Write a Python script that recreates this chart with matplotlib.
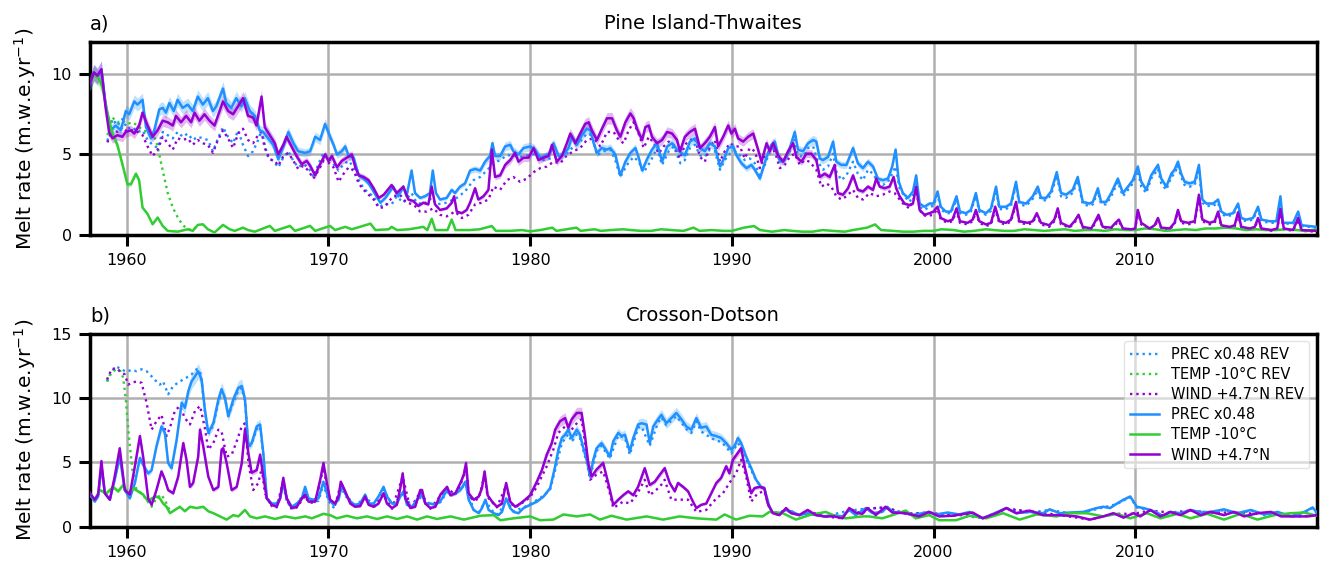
import numpy as np
import matplotlib
matplotlib.use("Agg")
import matplotlib.pyplot as plt

############################## DATA

BLUE = "#1e90ff"
GREEN = "#32cd32"
VIOLET = "#9400d3"

# ---------- a) Pine Island-Thwaites ----------
a_prec_t = [1958.17, 1958.37, 1958.54, 1958.74, 1958.95, 1959.20, 1959.45, 1959.70, 1959.95, 1960.12,
            1960.37, 1960.53, 1960.78, 1960.95, 1961.20, 1961.36, 1961.61, 1961.78, 1961.94, 1962.11,
            1962.33, 1962.52, 1962.77, 1963.02, 1963.27, 1963.52, 1963.77, 1964.02, 1964.27, 1964.44,
            1964.77, 1964.93, 1965.18, 1965.43, 1965.68, 1965.85, 1966.10, 1966.35, 1966.59, 1966.76,
            1967.01, 1967.26, 1967.51, 1967.76, 1968.01, 1968.26, 1968.50, 1968.84, 1969.09, 1969.34,
            1969.58, 1969.83, 1970.08, 1970.25, 1970.42, 1970.66, 1970.83, 1971.00, 1971.25, 1971.50,
            1971.74, 1971.99, 1972.33, 1972.57, 1972.82, 1973.21, 1973.46, 1973.71, 1973.87, 1974.12,
            1974.29, 1974.54, 1974.78, 1975.03, 1975.17, 1975.33, 1975.53, 1975.86, 1976.11, 1976.27,
            1976.52, 1976.77, 1977.02, 1977.27, 1977.52, 1977.76, 1978.01, 1978.13, 1978.26, 1978.51,
            1978.76, 1979.01, 1979.17, 1979.42, 1979.67, 1980.00, 1980.25, 1980.50, 1980.75, 1980.99,
            1981.16, 1981.41, 1981.66, 1981.90, 1982.07, 1982.32, 1982.57, 1982.81, 1982.98, 1983.15,
            1983.31, 1983.56, 1983.81, 1983.97, 1984.22, 1984.47, 1984.72, 1984.97, 1985.22, 1985.38,
            1985.55, 1985.79, 1986.04, 1986.29, 1986.54, 1986.79, 1987.04, 1987.28, 1987.67, 1987.92,
            1988.17, 1988.42, 1988.66, 1988.91, 1989.16, 1989.41, 1989.65, 1989.82, 1990.07, 1990.23,
            1990.48, 1990.73, 1990.97, 1991.14, 1991.39, 1991.55, 1991.72, 1991.96, 1992.13, 1992.38,
            1992.62, 1992.87, 1993.12, 1993.28, 1993.53, 1993.78, 1994.03, 1994.19, 1994.36, 1994.52,
            1994.77, 1995.02, 1995.18, 1995.43, 1995.68, 1996.01, 1996.25, 1996.50, 1996.75, 1997.00,
            1997.24, 1997.49, 1997.74, 1997.95, 1998.12, 1998.28, 1998.48, 1998.73, 1998.98, 1999.14,
            1999.31, 1999.55, 1999.80, 2000.00, 2000.20, 2000.36, 2000.61, 2000.86, 2001.14, 2001.31,
            2001.61, 2001.85, 2002.10, 2002.27, 2002.60, 2002.85, 2003.10, 2003.26, 2003.59, 2003.84,
            2004.09, 2004.25, 2004.59, 2004.92, 2005.17, 2005.33, 2005.58, 2005.83, 2006.11, 2006.32,
            2006.57, 2006.90, 2007.15, 2007.40, 2007.73, 2007.90, 2008.15, 2008.31, 2008.56, 2008.81,
            2009.14, 2009.39, 2009.64, 2009.88, 2010.13, 2010.30, 2010.55, 2010.79, 2011.13, 2011.29,
            2011.54, 2011.79, 2011.95, 2012.12, 2012.28, 2012.45, 2012.70, 2012.95, 2013.16, 2013.33,
            2013.53, 2013.86, 2014.11, 2014.27, 2014.52, 2014.85, 2015.10, 2015.26, 2015.51, 2015.84,
            2016.09, 2016.26, 2016.67, 2017.00, 2017.20, 2017.33, 2017.83, 2018.08, 2018.25, 2019.00]
a_prec_v = [9.4, 10.1, 9.8, 10.3, 8.1, 6.5, 6.8, 6.5, 7.7, 7.5,
            8.3, 8.1, 8.4, 6.7, 6.0, 6.5, 7.8, 7.9, 7.6, 8.2,
            7.7, 8.4, 7.9, 8.1, 7.7, 8.6, 8.1, 8.5, 7.7, 8.0,
            9.1, 8.2, 7.9, 8.5, 8.0, 8.5, 7.7, 7.4, 6.5, 6.4,
            6.0, 5.6, 4.7, 5.5, 6.4, 5.7, 5.2, 5.1, 5.2, 6.1,
            5.9, 6.9, 6.1, 5.6, 5.0, 5.2, 5.5, 4.9, 4.8, 3.7,
            3.5, 3.2, 2.5, 2.0, 2.3, 3.0, 2.4, 3.0, 2.4, 4.0,
            2.6, 2.3, 2.4, 2.6, 4.0, 2.6, 2.2, 2.3, 2.8, 2.6,
            3.0, 3.2, 4.0, 4.1, 4.0, 4.55, 4.9, 5.7, 4.9, 4.9,
            5.5, 5.6, 5.2, 5.0, 5.4, 5.5, 5.3, 4.8, 4.9, 5.1,
            5.7, 4.9, 5.0, 5.4, 6.1, 5.6, 6.2, 6.6, 6.5, 5.7,
            5.1, 5.4, 5.3, 5.4, 5.0, 3.7, 4.55, 5.1, 5.4, 4.8,
            4.0, 4.7, 5.3, 5.7, 4.55, 5.5, 5.7, 5.3, 4.95, 5.8,
            6.0, 5.4, 5.2, 5.7, 5.5, 4.25, 4.85, 5.4, 5.5, 4.95,
            4.45, 4.15, 4.35, 4.05, 3.5, 4.15, 4.85, 5.6, 5.8, 4.55,
            4.65, 5.4, 6.4, 5.3, 5.2, 5.7, 5.9, 5.8, 4.75, 4.65,
            4.85, 5.8, 4.55, 4.35, 4.35, 5.4, 4.45, 4.15, 4.55, 4.25,
            3.5, 3.4, 3.5, 4.25, 5.3, 3.3, 2.6, 2.3, 2.7, 3.7,
            1.95, 1.75, 1.95, 1.95, 2.7, 1.75, 1.45, 1.45, 2.4, 1.45,
            1.35, 1.55, 2.6, 1.55, 1.35, 1.65, 3.0, 1.75, 1.75, 1.95,
            3.3, 2.05, 1.95, 2.4, 3.0, 2.3, 2.3, 2.7, 3.9, 2.6,
            2.5, 2.8, 3.6, 2.05, 1.95, 2.05, 2.9, 2.05, 2.05, 2.6,
            3.5, 2.6, 3.0, 3.4, 4.25, 3.3, 2.8, 3.7, 4.35, 3.5,
            3.0, 3.8, 4.05, 4.55, 3.8, 3.3, 3.2, 3.3, 4.35, 2.2,
            1.95, 1.95, 2.2, 1.45, 1.25, 1.35, 1.95, 1.05, 0.95, 1.05,
            1.75, 0.95, 0.85, 0.85, 2.4, 0.75, 0.75, 1.45, 0.6, 0.5]

a_wind_t = [1958.17, 1958.37, 1958.54, 1958.74, 1958.95, 1959.12, 1959.29, 1959.53, 1959.78, 1959.95,
            1960.20, 1960.37, 1960.61, 1960.78, 1961.03, 1961.28, 1961.53, 1961.78, 1962.03, 1962.28,
            1962.44, 1962.69, 1962.94, 1963.19, 1963.36, 1963.60, 1963.85, 1964.10, 1964.35, 1964.60,
            1964.77, 1965.02, 1965.27, 1965.52, 1965.76, 1966.01, 1966.26, 1966.43, 1966.68, 1966.84,
            1967.09, 1967.34, 1967.51, 1967.76, 1967.92, 1968.17, 1968.42, 1968.67, 1968.92, 1969.09,
            1969.34, 1969.50, 1969.67, 1969.83, 1970.00, 1970.17, 1970.42, 1970.66, 1970.91, 1971.16,
            1971.33, 1971.50, 1971.74, 1971.99, 1972.24, 1972.49, 1972.74, 1973.13, 1973.38, 1973.71,
            1973.96, 1974.21, 1974.45, 1974.70, 1974.95, 1975.12, 1975.28, 1975.53, 1975.86, 1976.11,
            1976.23, 1976.36, 1976.61, 1976.85, 1977.02, 1977.27, 1977.43, 1977.68, 1977.93, 1978.10,
            1978.26, 1978.51, 1978.76, 1979.01, 1979.25, 1979.42, 1979.67, 1979.92, 1980.17, 1980.41,
            1980.66, 1980.91, 1981.08, 1981.32, 1981.57, 1981.82, 1981.99, 1982.24, 1982.48, 1982.73,
            1982.90, 1983.06, 1983.31, 1983.56, 1983.81, 1984.06, 1984.30, 1984.47, 1984.72, 1984.97,
            1985.13, 1985.30, 1985.55, 1985.71, 1985.88, 1986.04, 1986.29, 1986.54, 1986.79, 1987.04,
            1987.28, 1987.43, 1987.67, 1987.92, 1988.17, 1988.42, 1988.66, 1988.91, 1989.16, 1989.32,
            1989.57, 1989.82, 1989.98, 1990.15, 1990.31, 1990.56, 1990.81, 1991.06, 1991.30, 1991.47,
            1991.72, 1991.88, 1992.05, 1992.29, 1992.54, 1992.79, 1993.04, 1993.20, 1993.45, 1993.70,
            1993.94, 1994.19, 1994.36, 1994.60, 1994.85, 1995.10, 1995.26, 1995.51, 1995.76, 1996.01,
            1996.25, 1996.50, 1996.75, 1997.00, 1997.16, 1997.33, 1997.57, 1997.82, 1998.02, 1998.15,
            1998.32, 1998.56, 1998.81, 1998.98, 1999.14, 1999.31, 1999.55, 1999.80, 2000.00, 2000.20,
            2000.36, 2000.70, 2000.94, 2001.14, 2001.31, 2001.69, 2001.94, 2002.10, 2002.27, 2002.60,
            2002.85, 2003.06, 2003.26, 2003.59, 2003.84, 2004.09, 2004.25, 2004.67, 2004.92, 2005.12,
            2005.33, 2005.74, 2005.99, 2006.16, 2006.32, 2006.74, 2006.99, 2007.19, 2007.40, 2007.82,
            2007.98, 2008.18, 2008.39, 2008.81, 2009.02, 2009.19, 2009.39, 2009.80, 2010.00, 2010.13,
            2010.30, 2010.71, 2010.96, 2011.13, 2011.29, 2011.71, 2011.95, 2012.12, 2012.28, 2012.62,
            2012.95, 2013.16, 2013.33, 2013.69, 2013.94, 2014.11, 2014.27, 2014.69, 2014.93, 2015.10,
            2015.26, 2015.68, 2015.93, 2016.09, 2016.26, 2016.75, 2017.04, 2017.20, 2017.37, 2017.83,
            2018.08, 2018.25, 2019.00]
a_wind_v = [9.4, 10.1, 9.9, 10.3, 7.9, 6.4, 6.0, 6.2, 6.1, 6.4,
            6.5, 6.3, 6.8, 7.6, 6.8, 6.1, 6.5, 7.1, 7.0, 6.8,
            7.4, 7.0, 7.4, 7.0, 7.6, 7.1, 7.5, 7.1, 6.8, 7.7,
            8.3, 7.7, 7.5, 8.0, 8.5, 7.4, 7.3, 6.8, 8.6, 6.7,
            6.2, 5.7, 5.0, 5.6, 6.1, 5.5, 4.9, 4.4, 4.6, 4.3,
            3.7, 4.2, 4.6, 5.0, 4.6, 4.9, 4.2, 4.6, 4.8, 5.0,
            4.2, 3.7, 3.6, 3.4, 2.9, 2.3, 2.5, 3.1, 2.6, 3.0,
            2.2, 2.1, 1.8, 2.0, 1.9, 3.0, 1.9, 1.55, 1.65, 2.0,
            2.4, 1.45, 1.35, 1.55, 2.0, 2.9, 2.2, 2.4, 2.8, 5.3,
            3.6, 3.7, 4.35, 4.65, 5.1, 4.55, 4.8, 4.8, 5.4, 4.65,
            4.8, 4.9, 5.6, 4.55, 4.9, 5.7, 6.3, 5.7, 6.3, 6.9,
            7.0, 6.5, 5.9, 6.6, 7.25, 7.25, 6.5, 6.1, 7.0, 7.55,
            7.25, 6.6, 5.9, 6.7, 6.8, 6.1, 5.7, 5.9, 6.4, 6.3,
            5.9, 5.2, 6.1, 6.4, 6.6, 5.4, 5.7, 6.1, 6.7, 5.5,
            6.1, 6.8, 6.3, 6.6, 6.0, 5.8, 6.1, 6.3, 5.3, 4.55,
            5.7, 5.2, 5.7, 4.95, 4.55, 5.2, 5.7, 4.85, 4.55, 5.05,
            5.05, 4.65, 3.6, 3.8, 3.6, 4.35, 2.6, 2.5, 2.9, 3.7,
            2.8, 2.7, 3.0, 2.8, 3.5, 3.0, 2.9, 3.0, 3.6, 2.9,
            2.4, 1.95, 1.85, 1.95, 3.0, 1.55, 1.25, 1.35, 1.45, 1.75,
            1.05, 0.85, 0.95, 1.65, 0.85, 0.75, 0.95, 1.55, 0.85, 0.65,
            0.75, 1.75, 0.85, 0.75, 0.95, 2.05, 0.85, 0.75, 0.85, 1.35,
            0.75, 0.6, 0.95, 1.65, 0.75, 0.5, 0.85, 1.25, 0.5, 0.4,
            0.75, 1.25, 0.5, 0.45, 0.75, 0.95, 0.4, 0.35, 0.4, 1.55,
            0.75, 0.4, 0.6, 1.05, 0.45, 0.4, 0.75, 1.55, 0.85, 0.75,
            0.85, 2.5, 0.95, 0.75, 0.85, 1.45, 0.6, 0.5, 0.6, 1.4,
            0.5, 0.4, 0.5, 1.05, 0.4, 0.3, 0.4, 1.6, 0.4, 0.3,
            1.05, 0.3, 0.25]

a_temp_t = [1958.17, 1958.37, 1958.62, 1958.79, 1959.04, 1959.29, 1959.53, 1959.78, 1960.03, 1960.20,
            1960.45, 1960.61, 1960.78, 1961.03, 1961.28, 1961.53, 1961.78, 1962.03, 1962.52, 1963.02,
            1963.27, 1963.52, 1963.77, 1964.02, 1964.35, 1964.77, 1965.10, 1965.35, 1965.76, 1966.01,
            1966.35, 1967.09, 1967.34, 1968.09, 1968.34, 1969.09, 1969.34, 1970.08, 1970.33, 1970.83,
            1971.16, 1972.08, 1972.33, 1972.99, 1973.13, 1973.40, 1974.00, 1974.70, 1974.90, 1975.12,
            1975.30, 1975.90, 1976.11, 1976.30, 1977.00, 1977.50, 1978.10, 1978.30, 1979.00, 1979.60,
            1980.00, 1980.50, 1981.10, 1981.30, 1982.30, 1982.50, 1983.20, 1983.50, 1984.00, 1984.60,
            1985.00, 1985.50, 1986.00, 1986.50, 1987.00, 1987.60, 1988.10, 1988.40, 1989.00, 1989.60,
            1990.00, 1990.60, 1991.10, 1991.40, 1992.00, 1992.60, 1993.00, 1993.50, 1994.00, 1994.50,
            1995.00, 1995.60, 1996.00, 1996.70, 1997.10, 1997.40, 1998.00, 1998.50, 1999.00, 1999.50,
            2000.00, 2000.40, 2001.00, 2001.50, 2002.00, 2002.60, 2003.00, 2003.50, 2004.00, 2004.50,
            2005.00, 2005.50, 2006.00, 2006.50, 2007.00, 2007.50, 2008.00, 2008.50, 2009.00, 2009.50,
            2010.00, 2010.50, 2011.00, 2011.50, 2012.00, 2012.50, 2013.00, 2013.50, 2014.00, 2014.50,
            2015.00, 2015.50, 2016.00, 2016.50, 2017.00, 2017.50, 2018.00, 2018.50, 2019.00]
a_temp_v = [9.4, 10.0, 9.7, 9.2, 7.5, 6.3, 5.6, 4.4, 3.15, 3.15,
            3.8, 3.4, 1.7, 1.3, 0.66, 1.08, 0.56, 0.25, 0.2, 0.35,
            0.25, 0.62, 0.66, 0.35, 0.15, 0.62, 0.35, 0.25, 0.45, 0.3,
            0.2, 0.56, 0.25, 0.56, 0.25, 0.56, 0.25, 0.56, 0.3, 0.5,
            0.35, 0.7, 0.3, 0.35, 0.5, 0.3, 0.35, 0.5, 0.3, 1.0,
            0.3, 0.3, 0.95, 0.3, 0.3, 0.35, 0.55, 0.25, 0.25, 0.3,
            0.22, 0.3, 0.45, 0.25, 0.45, 0.25, 0.35, 0.25, 0.3, 0.35,
            0.3, 0.25, 0.25, 0.35, 0.3, 0.25, 0.45, 0.25, 0.3, 0.25,
            0.25, 0.45, 0.55, 0.3, 0.2, 0.3, 0.25, 0.2, 0.2, 0.3,
            0.25, 0.2, 0.3, 0.45, 0.65, 0.3, 0.25, 0.2, 0.2, 0.25,
            0.25, 0.35, 0.3, 0.2, 0.25, 0.35, 0.3, 0.25, 0.25, 0.35,
            0.3, 0.25, 0.3, 0.35, 0.25, 0.3, 0.3, 0.25, 0.35, 0.3,
            0.3, 0.4, 0.35, 0.25, 0.3, 0.35, 0.3, 0.4, 0.4, 0.45,
            0.4, 0.3, 0.35, 0.3, 0.3, 0.35, 0.3, 0.25, 0.35]

a_prec_rev_t = [1959.04, 1959.29, 1959.53, 1959.78, 1960.03, 1960.28, 1960.53, 1960.78, 1961.03, 1961.28,
                1961.53, 1961.78, 1962.03, 1962.28, 1962.52, 1962.77, 1963.02, 1963.27, 1963.52, 1963.77,
                1964.02, 1964.27, 1964.52, 1964.77, 1965.02, 1965.27, 1965.52, 1965.76, 1966.01, 1966.26,
                1966.51, 1966.68, 1966.84, 1967.01, 1967.26, 1967.51, 1967.76, 1968.01, 1968.26, 1968.50,
                1968.75, 1969.00, 1969.25, 1969.50, 1969.75, 1970.00, 1970.25, 1970.50, 1970.75, 1971.00,
                1971.25, 1971.50, 1971.74, 1971.99, 1972.24, 1972.49, 1972.74, 1973.13, 1973.38, 1973.71,
                1974.12, 1974.37, 1974.70, 1975.12, 1975.36, 1975.86, 1976.36, 1976.77, 1977.19, 1977.52,
                1977.85, 1978.18, 1978.51, 1978.84, 1979.17, 1979.50, 1979.92, 1980.33, 1980.66, 1980.99,
                1981.32, 1981.57, 1981.82, 1982.15, 1982.48, 1982.81, 1983.06, 1983.31, 1983.64, 1983.97,
                1984.22, 1984.47, 1984.80, 1985.13, 1985.38, 1985.63, 1985.96, 1986.29, 1986.54, 1986.87,
                1987.12, 1987.45, 1987.67, 1987.92, 1988.17, 1988.42, 1988.66, 1988.91, 1989.16, 1989.41,
                1989.65, 1989.90, 1990.15, 1990.40, 1990.64, 1990.89, 1991.14, 1991.39, 1991.63, 1991.88,
                1992.13, 1992.38, 1992.62, 1992.87, 1993.12, 1993.28, 1993.53, 1993.78, 1994.03, 1994.27,
                1994.52, 1994.77, 1995.02, 1995.18, 1995.43, 1995.68, 1996.01, 1996.25, 1996.50, 1996.75,
                1997.00, 1997.24, 1997.49, 1997.74, 1997.95, 1998.12, 1998.32, 1998.56, 1998.81, 1998.98,
                1999.14, 1999.31, 1999.55, 1999.80, 2000.00, 2000.20, 2000.36, 2000.61, 2000.86, 2001.14,
                2001.31, 2001.61, 2001.85, 2002.10, 2002.27, 2002.60, 2002.85, 2003.10, 2003.26, 2003.59,
                2003.84, 2004.09, 2004.25, 2004.59, 2004.92, 2005.17, 2005.33, 2005.58, 2005.83, 2006.11,
                2006.32, 2006.57, 2006.90, 2007.15, 2007.40, 2007.73, 2007.90, 2008.15, 2008.31, 2008.56,
                2008.81, 2009.14, 2009.39, 2009.64, 2009.88, 2010.13, 2010.30, 2010.55, 2010.79, 2011.13,
                2011.29, 2011.54, 2011.79, 2011.95, 2012.12, 2012.28, 2012.45, 2012.70, 2012.95, 2013.16,
                2013.33, 2013.53, 2013.86, 2014.11, 2014.27, 2014.52, 2014.85, 2015.10, 2015.26, 2015.51,
                2015.84, 2016.09, 2016.26, 2016.67, 2017.00, 2017.20, 2017.33, 2017.83, 2018.08, 2018.25,
                2019.00]
a_prec_rev_v = [5.85, 7.2, 6.8, 7.2, 6.6, 6.7, 6.4, 6.5, 5.9, 5.6,
                5.4, 6.4, 6.2, 6.0, 6.4, 6.1, 6.3, 5.9, 6.1, 6.0,
                5.9, 5.2, 6.0, 6.7, 6.1, 5.7, 6.5, 5.6, 4.9, 5.2,
                5.9, 6.5, 5.6, 4.8, 4.6, 4.2, 4.8, 5.2, 4.6, 4.2,
                4.4, 4.2, 3.6, 4.4, 5.1, 4.8, 4.4, 4.0, 4.4, 4.6,
                4.2, 3.4, 2.9, 2.6, 2.4, 1.7, 1.9, 1.9, 2.4, 2.0,
                2.6, 2.0, 1.9, 2.3, 1.9, 2.0, 2.3, 2.7, 3.4, 3.6,
                4.0, 4.45, 4.65, 4.95, 4.95, 4.85, 4.95, 5.05, 4.65, 4.75,
                4.85, 4.95, 5.05, 5.5, 5.8, 6.3, 6.2, 4.95, 5.2, 5.3,
                4.65, 3.6, 4.35, 4.85, 4.55, 3.9, 4.55, 5.4, 4.35, 5.2,
                5.5, 4.45, 4.65, 5.4, 5.6, 4.95, 4.85, 5.3, 5.2, 4.05,
                4.65, 5.05, 5.2, 4.95, 4.65, 4.75, 4.45, 3.7, 4.35, 5.2,
                5.4, 4.55, 4.65, 5.2, 5.9, 4.95, 4.85, 5.4, 5.5, 4.55,
                4.05, 4.25, 5.05, 3.95, 3.4, 3.7, 4.55, 3.8, 3.4, 4.05,
                3.8, 3.3, 3.1, 3.3, 3.8, 4.25, 2.9, 2.4, 2.05, 2.4,
                3.2, 1.75, 1.55, 1.75, 1.8, 2.5, 1.6, 1.35, 1.35, 2.2,
                1.35, 1.25, 1.45, 2.4, 1.45, 1.25, 1.5, 2.8, 1.6, 1.6,
                1.8, 3.1, 1.9, 1.8, 2.25, 2.8, 2.15, 2.15, 2.5, 3.7,
                2.4, 2.3, 2.6, 3.4, 1.9, 1.8, 1.9, 2.7, 1.9, 1.9,
                2.4, 3.3, 2.4, 2.8, 3.2, 4.0, 3.0, 2.6, 3.5, 4.1,
                3.2, 2.8, 3.6, 3.8, 4.3, 3.6, 3.1, 3.0, 3.1, 4.1,
                2.0, 1.8, 1.8, 2.0, 1.3, 1.15, 1.25, 1.8, 0.95, 0.85,
                0.95, 1.6, 0.85, 0.75, 0.75, 2.2, 0.7, 0.7, 1.35, 0.55,
                0.45]

a_wind_rev_t = [1959.04, 1959.29, 1959.53, 1959.78, 1960.03, 1960.28, 1960.53, 1960.78, 1961.03, 1961.28,
                1961.53, 1961.78, 1962.03, 1962.28, 1962.52, 1962.77, 1963.02, 1963.27, 1963.52, 1963.77,
                1964.02, 1964.27, 1964.52, 1964.77, 1965.02, 1965.27, 1965.52, 1965.76, 1966.01, 1966.26,
                1966.51, 1966.68, 1966.84, 1967.09, 1967.34, 1967.51, 1967.76, 1968.01, 1968.26, 1968.50,
                1968.75, 1969.00, 1969.25, 1969.50, 1969.75, 1970.00, 1970.25, 1970.50, 1970.75, 1971.00,
                1971.25, 1971.50, 1971.74, 1971.99, 1972.24, 1972.49, 1972.74, 1973.21, 1973.54, 1973.87,
                1974.21, 1974.54, 1974.87, 1975.20, 1975.53, 1975.86, 1976.27, 1976.61, 1976.94, 1977.27,
                1977.60, 1977.93, 1978.18, 1978.51, 1978.84, 1979.17, 1979.50, 1979.83, 1980.17, 1980.50,
                1980.83, 1981.16, 1981.49, 1981.82, 1982.15, 1982.48, 1982.81, 1983.15, 1983.48, 1983.81,
                1984.14, 1984.39, 1984.64, 1984.88, 1985.13, 1985.38, 1985.63, 1985.88, 1986.13, 1986.37,
                1986.62, 1986.87, 1987.12, 1987.43, 1987.67, 1987.92, 1988.17, 1988.42, 1988.66, 1988.91,
                1989.16, 1989.41, 1989.65, 1989.90, 1990.15, 1990.40, 1990.64, 1990.89, 1991.14, 1991.39,
                1991.63, 1991.88, 1992.13, 1992.38, 1992.62, 1992.87, 1993.12, 1993.37, 1993.61, 1993.86,
                1994.19, 1994.44, 1994.69, 1994.93, 1995.18, 1995.43, 1995.68, 1996.01, 1996.25, 1996.50,
                1996.83, 1997.16, 1997.49, 1997.82, 1998.07, 1998.32, 1998.56, 1998.81, 1999.14, 1999.39,
                1999.64, 1999.97, 2000.20, 2000.36, 2000.70, 2000.94, 2001.14, 2001.31, 2001.69, 2001.94,
                2002.10, 2002.27, 2002.60, 2002.85, 2003.06, 2003.26, 2003.59, 2003.84, 2004.09, 2004.25,
                2004.67, 2004.92, 2005.12, 2005.33, 2005.74, 2005.99, 2006.16, 2006.32, 2006.74, 2006.99,
                2007.19, 2007.40, 2007.82, 2007.98, 2008.18, 2008.39, 2008.81, 2009.02, 2009.19, 2009.39,
                2009.80, 2010.00, 2010.13, 2010.30, 2010.71, 2010.96, 2011.13, 2011.29, 2011.71, 2011.95,
                2012.12, 2012.28, 2012.62, 2012.95, 2013.16, 2013.33, 2013.69, 2013.94, 2014.11, 2014.27,
                2014.69, 2014.93, 2015.10, 2015.26, 2015.68, 2015.93, 2016.09, 2016.26, 2016.75, 2017.04,
                2017.20, 2017.37, 2017.83, 2018.08, 2018.25, 2019.00]
a_wind_rev_v = [5.75, 6.6, 6.4, 6.7, 6.4, 6.5, 6.4, 6.2, 5.5, 4.9,
                5.3, 6.1, 5.7, 5.3, 6.0, 5.9, 6.0, 5.6, 5.9, 5.7,
                5.6, 5.1, 5.9, 6.5, 6.0, 5.4, 6.3, 6.6, 5.9, 5.7,
                6.2, 6.4, 5.4, 4.7, 4.6, 4.3, 4.9, 5.1, 4.6, 4.1,
                4.3, 4.0, 3.5, 4.0, 4.6, 4.5, 4.2, 3.3, 3.8, 4.2,
                4.0, 3.2, 2.8, 2.5, 2.2, 1.7, 1.7, 2.4, 2.5, 2.0,
                1.9, 1.45, 1.45, 1.65, 1.25, 1.15, 1.45, 1.05, 1.25, 1.9,
                2.0, 2.2, 3.0, 2.8, 3.4, 3.6, 3.3, 3.5, 3.9, 4.15,
                4.25, 4.55, 4.45, 4.95, 5.2, 5.4, 5.9, 6.0, 5.5, 6.4,
                6.4, 5.9, 5.7, 6.5, 7.0, 6.3, 5.4, 6.1, 5.7, 5.05,
                5.5, 5.8, 5.6, 4.75, 5.6, 5.9, 6.0, 4.85, 4.55, 5.5,
                5.9, 4.55, 5.2, 5.7, 5.5, 5.5, 4.75, 5.4, 5.2, 4.15,
                4.95, 5.2, 5.2, 4.15, 4.35, 4.85, 5.05, 4.35, 4.65, 4.55,
                4.05, 3.0, 3.2, 3.0, 2.4, 2.2, 2.4, 2.8, 2.3, 2.2,
                2.6, 2.4, 2.5, 2.7, 2.6, 2.2, 1.85, 1.65, 2.6, 1.35,
                1.15, 1.25, 1.6, 0.95, 0.75, 0.85, 1.5, 0.75, 0.65, 0.85,
                1.4, 0.75, 0.55, 0.65, 1.6, 0.75, 0.65, 0.85, 1.9, 0.75,
                0.65, 0.75, 1.25, 0.65, 0.5, 0.85, 1.5, 0.65, 0.45, 0.75,
                1.15, 0.45, 0.35, 0.65, 1.15, 0.45, 0.4, 0.65, 0.85, 0.35,
                0.3, 0.35, 1.45, 0.65, 0.35, 0.5, 0.95, 0.4, 0.35, 0.65,
                1.45, 0.75, 0.65, 0.75, 2.3, 0.85, 0.65, 0.75, 1.35, 0.5,
                0.45, 0.5, 1.3, 0.45, 0.35, 0.45, 0.95, 0.35, 0.25, 0.35,
                1.5, 0.35, 0.25, 0.95, 0.25, 0.2]

a_temp_rev_t = [1959.04, 1959.29, 1959.53, 1959.78, 1960.03, 1960.28, 1960.53, 1960.78, 1961.03, 1961.28,
                1961.45, 1961.61, 1961.78, 1962.03, 1962.28, 1962.52, 1962.77, 1963.02, 1963.27, 1963.52]
a_temp_rev_v = [6.2, 7.3, 7.0, 7.1, 6.9, 7.0, 6.8, 6.5, 6.4, 6.2,
                5.9, 5.0, 4.0, 2.6, 1.7, 1.1, 0.62, 0.35, 0.3, 0.6]

# ---------- b) Crosson-Dotson ----------
b_prec_t = [1958.17, 1958.41, 1958.58, 1958.74, 1958.91, 1959.16, 1959.40, 1959.65, 1959.90, 1960.15,
            1960.40, 1960.65, 1960.81, 1961.06, 1961.23, 1961.47, 1961.72, 1961.89, 1962.05, 1962.22,
            1962.47, 1962.72, 1962.88, 1963.05, 1963.21, 1963.38, 1963.54, 1963.71, 1963.87, 1964.04,
            1964.29, 1964.54, 1964.70, 1964.87, 1965.03, 1965.28, 1965.53, 1965.70, 1965.86, 1966.03,
            1966.19, 1966.44, 1966.61, 1966.77, 1966.94, 1967.19, 1967.43, 1967.60, 1967.76, 1967.93,
            1968.18, 1968.43, 1968.68, 1968.84, 1969.01, 1969.25, 1969.50, 1969.75, 1970.00, 1970.25,
            1970.50, 1970.66, 1970.83, 1971.08, 1971.32, 1971.57, 1971.82, 1971.99, 1972.24, 1972.48,
            1972.73, 1972.90, 1973.15, 1973.39, 1973.56, 1973.72, 1973.89, 1974.14, 1974.39, 1974.64,
            1974.80, 1975.05, 1975.30, 1975.55, 1975.88, 1976.05, 1976.29, 1976.54, 1976.79, 1976.95,
            1977.20, 1977.45, 1977.61, 1977.78, 1977.94, 1978.19, 1978.43, 1978.60, 1978.81, 1979.01,
            1979.18, 1979.42, 1979.67, 1980.00, 1980.33, 1980.66, 1980.99, 1981.24, 1981.40, 1981.57,
            1981.73, 1981.89, 1982.06, 1982.31, 1982.47, 1982.64, 1982.80, 1982.97, 1983.13, 1983.29,
            1983.54, 1983.71, 1983.95, 1984.12, 1984.37, 1984.53, 1984.70, 1984.94, 1985.11, 1985.35,
            1985.52, 1985.77, 1985.93, 1986.10, 1986.34, 1986.51, 1986.75, 1987.00, 1987.25, 1987.50,
            1987.74, 1987.99, 1988.24, 1988.48, 1988.73, 1988.98, 1989.23, 1989.47, 1989.72, 1989.97,
            1990.13, 1990.30, 1990.46, 1990.71, 1990.96, 1991.20, 1991.45, 1991.61, 1991.86, 1992.03,
            1992.36, 1992.69, 1993.01, 1993.34, 1993.76, 1994.17, 1994.58, 1994.99, 1995.49, 1995.82,
            1996.14, 1996.64, 1996.97, 1997.46, 1997.71, 1997.96, 1998.46, 1998.95, 1999.45, 1999.78,
            2000.12, 2000.70, 2001.28, 2001.78, 2002.44, 2003.11, 2003.61, 2004.10, 2004.77, 2005.43,
            2005.76, 2006.26, 2006.76, 2007.43, 2008.09, 2008.42, 2008.75, 2009.09, 2009.42, 2009.75,
            2009.92, 2010.08, 2010.41, 2010.75, 2011.08, 2011.41, 2011.74, 2012.24, 2012.74, 2013.24,
            2013.74, 2014.40, 2015.07, 2015.73, 2016.40, 2017.06, 2017.72, 2018.39, 2018.80, 2019.00]
b_prec_v = [2.5, 1.95, 2.35, 4.7, 2.6, 2.1, 3.65, 5.45, 2.85, 2.2,
            3.4, 5.35, 4.8, 4.15, 4.4, 6.25, 7.8, 7.3, 4.95, 4.55,
            6.75, 9.65, 9.25, 10.55, 11.3, 11.7, 12.1, 11.45, 9.1, 7.3,
            8.05, 9.9, 10.7, 10.0, 8.6, 9.9, 10.8, 10.95, 9.9, 6.25,
            6.5, 7.8, 7.95, 5.7, 2.2, 1.8, 1.8, 2.2, 3.4, 2.2,
            1.55, 1.8, 2.2, 3.1, 2.2, 2.1, 2.2, 3.5, 2.2, 1.7,
            2.1, 3.25, 2.6, 1.95, 1.7, 1.8, 2.5, 1.8, 1.8, 2.35,
            3.1, 2.35, 1.8, 1.8, 2.35, 2.75, 1.7, 1.55, 2.1, 2.5,
            1.8, 1.8, 1.7, 2.0, 2.85, 2.45, 2.6, 2.85, 3.5, 2.1,
            1.3, 1.05, 1.45, 2.1, 1.3, 1.05, 0.9, 1.15, 2.2, 1.45,
            1.15, 1.05, 1.45, 1.7, 1.95, 2.35, 3.0, 4.7, 6.0, 6.9,
            7.15, 7.55, 6.9, 7.55, 7.15, 6.1, 5.2, 3.9, 5.2, 6.1,
            6.5, 6.1, 5.45, 6.65, 7.3, 7.05, 7.15, 5.85, 6.9, 7.95,
            8.05, 7.95, 6.5, 7.8, 8.35, 8.7, 8.05, 8.45, 8.85, 8.35,
            7.8, 7.55, 8.45, 7.7, 7.8, 7.15, 7.05, 6.9, 6.5, 6.0,
            6.25, 6.9, 6.5, 5.45, 4.55, 3.65, 3.1, 3.0, 1.55, 1.1,
            1.05, 1.3, 1.15, 0.9, 1.05, 0.9, 0.8, 0.9, 0.8, 1.3,
            0.9, 1.45, 1.05, 1.15, 1.55, 1.15, 1.1, 0.9, 1.05, 1.15,
            0.95, 1.1, 0.95, 1.15, 0.65, 1.1, 1.45, 1.05, 1.15, 1.05,
            1.35, 1.05, 1.1, 1.15, 1.45, 1.55, 1.45, 1.8, 2.1, 2.35,
            1.95, 1.55, 1.45, 1.3, 1.1, 0.8, 1.15, 1.05, 1.3, 1.1,
            1.15, 1.35, 1.05, 1.3, 0.95, 1.15, 0.8, 1.15, 1.5, 1.1]

b_wind_t = [1958.17, 1958.41, 1958.58, 1958.74, 1958.91, 1959.16, 1959.40, 1959.65, 1959.90, 1960.15,
            1960.40, 1960.65, 1960.81, 1961.06, 1961.23, 1961.47, 1961.72, 1961.89, 1962.05, 1962.30,
            1962.55, 1962.80, 1962.96, 1963.13, 1963.29, 1963.54, 1963.63, 1963.79, 1964.04, 1964.29,
            1964.54, 1964.70, 1964.78, 1964.95, 1965.20, 1965.45, 1965.70, 1965.86, 1966.03, 1966.19,
            1966.44, 1966.61, 1966.77, 1966.94, 1967.19, 1967.43, 1967.60, 1967.76, 1967.93, 1968.18,
            1968.43, 1968.68, 1968.84, 1969.01, 1969.34, 1969.59, 1969.75, 1969.92, 1970.08, 1970.33,
            1970.50, 1970.61, 1970.83, 1971.08, 1971.32, 1971.57, 1971.82, 1971.99, 1972.24, 1972.48,
            1972.73, 1972.90, 1973.15, 1973.39, 1973.56, 1973.68, 1973.81, 1974.06, 1974.30, 1974.55,
            1974.64, 1974.80, 1975.05, 1975.30, 1975.55, 1975.88, 1976.05, 1976.29, 1976.54, 1976.71,
            1976.82, 1976.95, 1977.20, 1977.45, 1977.61, 1977.74, 1977.89, 1978.11, 1978.35, 1978.60,
            1978.81, 1979.01, 1979.26, 1979.51, 1979.75, 1980.00, 1980.33, 1980.58, 1980.82, 1981.07,
            1981.24, 1981.48, 1981.73, 1981.89, 1982.06, 1982.31, 1982.55, 1982.72, 1982.88, 1983.05,
            1983.29, 1983.62, 1983.87, 1984.12, 1984.37, 1984.61, 1984.86, 1985.11, 1985.35, 1985.68,
            1985.93, 1986.18, 1986.43, 1986.67, 1986.92, 1987.17, 1987.33, 1987.58, 1987.83, 1988.07,
            1988.24, 1988.48, 1988.73, 1988.98, 1989.23, 1989.47, 1989.72, 1989.88, 1990.05, 1990.30,
            1990.46, 1990.63, 1990.79, 1990.96, 1991.12, 1991.37, 1991.61, 1991.78, 1992.03, 1992.36,
            1992.69, 1992.93, 1993.34, 1993.76, 1994.17, 1994.58, 1995.07, 1995.49, 1995.82, 1996.14,
            1996.47, 1996.72, 1997.05, 1997.13, 1997.62, 1997.96, 1998.62, 1999.29, 1999.78, 2000.28,
            2000.95, 2001.94, 2002.44, 2003.11, 2003.61, 2004.10, 2004.77, 2005.43, 2006.26, 2007.09,
            2007.76, 2008.42, 2008.92, 2009.42, 2009.92, 2010.25, 2010.75, 2011.25, 2011.74, 2012.24,
            2012.74, 2013.24, 2013.74, 2014.40, 2014.90, 2015.40, 2016.06, 2016.73, 2017.23, 2017.89,
            2018.56, 2019.00]
b_wind_v = [2.6, 2.1, 2.5, 5.1, 2.6, 2.1, 3.9, 6.1, 2.85, 2.5,
            4.7, 7.05, 5.45, 2.2, 1.7, 2.85, 4.3, 3.65, 2.85, 2.6,
            3.9, 6.5, 5.2, 3.1, 3.4, 5.45, 7.55, 6.25, 3.9, 2.85,
            3.1, 6.0, 6.1, 4.95, 2.85, 3.1, 4.95, 7.55, 5.7, 4.2,
            4.4, 5.6, 3.9, 2.2, 1.7, 1.55, 2.2, 3.8, 2.2, 1.45,
            1.55, 2.2, 2.5, 1.95, 1.95, 3.65, 4.95, 3.4, 2.1, 1.8,
            2.35, 3.5, 2.75, 1.8, 1.55, 1.6, 2.35, 1.7, 1.55, 1.8,
            2.6, 1.8, 1.45, 1.7, 3.0, 4.15, 2.2, 1.45, 1.55, 2.85,
            2.85, 1.8, 1.45, 1.55, 2.5, 3.1, 2.45, 2.6, 3.4, 4.05,
            4.95, 2.6, 2.1, 2.35, 3.0, 4.3, 2.45, 1.95, 1.55, 1.8,
            3.4, 1.95, 1.55, 1.8, 2.1, 2.45, 3.5, 4.4, 5.6, 6.5,
            7.55, 8.2, 8.45, 7.7, 8.35, 8.85, 8.85, 7.05, 4.95, 3.9,
            4.45, 4.95, 3.4, 1.7, 2.1, 2.45, 2.75, 2.45, 3.1, 4.55,
            3.25, 3.5, 4.05, 4.55, 3.4, 2.75, 3.4, 3.1, 2.75, 1.95,
            1.45, 1.7, 1.8, 2.6, 3.4, 3.8, 4.7, 4.15, 5.2, 5.75,
            6.1, 4.7, 3.65, 2.6, 3.0, 3.1, 3.0, 1.8, 1.05, 0.9,
            1.45, 1.05, 0.9, 1.3, 0.9, 0.8, 0.8, 0.65, 1.45, 1.1,
            1.0, 1.45, 1.05, 0.9, 1.55, 1.1, 1.05, 0.8, 1.15, 0.8,
            0.85, 1.1, 0.65, 1.05, 1.45, 1.05, 1.25, 0.9, 0.9, 0.8,
            0.55, 0.8, 1.05, 0.7, 1.05, 0.8, 1.3, 0.8, 1.15, 0.9,
            1.3, 0.9, 1.15, 0.9, 1.15, 0.8, 1.05, 1.15, 0.8, 0.8,
            0.8, 0.9]

b_temp_t = [1958.17, 1958.41, 1958.66, 1958.99, 1959.32, 1959.57, 1959.82, 1960.07, 1960.31, 1960.56,
            1960.81, 1961.06, 1961.23, 1961.47, 1961.64, 1961.80, 1961.97, 1962.14, 1962.38, 1962.63,
            1962.88, 1963.13, 1963.46, 1963.79, 1964.04, 1964.29, 1964.62, 1964.95, 1965.28, 1965.53,
            1965.86, 1966.11, 1966.44, 1966.85, 1967.35, 1967.85, 1968.35, 1968.85, 1969.17, 1969.75,
            1970.08, 1970.41, 1970.91, 1971.41, 1971.91, 1972.41, 1972.91, 1973.40, 1973.90, 1974.39,
            1974.89, 1975.38, 1976.05, 1976.71, 1977.53, 1978.19, 1978.52, 1979.18, 1980.00, 1980.49,
            1981.15, 1981.65, 1982.31, 1982.97, 1983.46, 1984.03, 1984.78, 1985.77, 1986.59, 1987.41,
            1988.24, 1989.23, 1989.64, 1990.21, 1990.87, 1991.53, 1991.86, 1992.52, 1993.18, 1993.84,
            1994.66, 1995.16, 1995.65, 1996.47, 1996.79, 1997.46, 1997.96, 1998.62, 1999.12, 1999.78,
            2000.28, 2001.11, 2001.78, 2002.61, 2003.44, 2004.27, 2005.10, 2006.10, 2006.76, 2007.59,
            2008.42, 2009.09, 2009.75, 2010.58, 2011.25, 2012.08, 2012.74, 2013.57, 2014.40, 2015.23,
            2016.06, 2016.89, 2017.72, 2018.39, 2019.00]
b_temp_v = [2.6, 2.1, 2.85, 2.6, 3.1, 2.75, 3.25, 2.6, 3.0, 2.75,
            2.5, 1.95, 2.2, 2.35, 2.2, 1.8, 1.55, 1.05, 1.3, 1.55,
            1.2, 1.55, 1.45, 1.55, 1.2, 1.05, 0.8, 0.55, 0.9, 0.8,
            1.3, 0.8, 0.65, 0.8, 0.6, 0.8, 0.65, 0.8, 0.65, 1.0,
            0.9, 0.65, 0.85, 0.65, 0.8, 0.6, 0.8, 0.6, 0.8, 0.55,
            0.8, 0.6, 0.8, 0.55, 0.85, 0.9, 0.5, 0.65, 0.8, 0.5,
            0.55, 0.95, 0.8, 0.95, 0.55, 0.85, 0.55, 0.8, 0.55, 0.8,
            0.65, 0.55, 0.95, 0.55, 0.85, 0.8, 1.15, 1.05, 0.55, 0.9,
            1.15, 0.8, 0.65, 0.8, 0.8, 0.65, 0.9, 1.25, 0.65, 0.9,
            0.5, 0.5, 0.85, 0.65, 1.05, 0.55, 0.95, 0.8, 1.05, 1.05,
            0.8, 1.0, 0.65, 1.05, 0.65, 1.0, 0.65, 1.0, 0.55, 1.0,
            0.55, 0.9, 1.05, 1.1, 0.85]

b_prec_rev_t = [1959.02, 1959.24, 1959.49, 1959.74, 1959.98, 1960.23, 1960.48, 1960.73, 1960.98, 1961.23,
                1961.47, 1961.64, 1961.80, 1962.05, 1962.30, 1962.63, 1962.96, 1963.21, 1963.46, 1963.63,
                1963.71, 1963.87, 1964.04, 1964.29, 1964.54, 1964.70, 1964.87, 1965.03, 1965.28, 1965.53,
                1965.70, 1965.86, 1966.03, 1966.19, 1966.44, 1966.61, 1966.77, 1966.94, 1967.19, 1967.43,
                1967.76, 1967.93, 1968.18, 1968.43, 1968.84, 1969.01, 1969.50, 1969.75, 1970.00, 1970.25,
                1970.66, 1970.83, 1971.32, 1971.82, 1972.24, 1972.73, 1973.15, 1973.72, 1974.14, 1974.64,
                1975.05, 1975.55, 1975.88, 1976.29, 1976.79, 1977.20, 1977.45, 1977.78, 1978.19, 1978.43,
                1978.81, 1979.18, 1979.67, 1980.00, 1980.66, 1980.99, 1981.24, 1981.57, 1981.89, 1982.06,
                1982.31, 1982.47, 1982.80, 1982.97, 1983.29, 1983.54, 1983.95, 1984.37, 1984.70, 1984.94,
                1985.35, 1985.52, 1985.93, 1986.34, 1986.51, 1986.75, 1987.25, 1987.74, 1987.99, 1988.24,
                1988.48, 1988.98, 1989.23, 1989.47, 1989.72, 1989.97, 1990.30, 1990.46, 1990.71, 1990.96,
                1991.20, 1991.45, 1991.61, 1991.86, 1992.03, 1992.69, 1993.34, 1993.76, 1994.58, 1995.82,
                1996.64, 1997.71, 1998.46, 1999.45, 2000.12, 2001.28, 2002.44, 2003.61, 2004.77, 2005.76,
                2006.76, 2007.43, 2008.42, 2009.09, 2009.42, 2009.75, 2010.08, 2010.75, 2011.41, 2012.24,
                2012.74, 2013.74, 2014.40, 2015.07, 2015.73, 2016.40, 2017.06, 2017.72, 2018.39, 2018.80,
                2019.00]
b_prec_rev_v = [11.3, 12.1, 12.45, 12.25, 12.05, 12.2, 12.1, 12.25, 12.1, 11.7,
                11.3, 11.05, 11.3, 10.3, 10.95, 11.3, 11.6, 11.85, 12.25, 12.1,
                11.3, 9.0, 7.2, 7.9, 9.7, 10.5, 10.0, 8.6, 9.7, 10.6,
                10.8, 9.8, 6.2, 6.4, 7.6, 7.8, 5.5, 2.1, 1.7, 1.6,
                3.2, 2.0, 1.4, 1.6, 2.9, 2.0, 2.0, 3.3, 2.0, 1.5,
                3.0, 2.4, 1.6, 2.3, 1.7, 2.9, 1.7, 2.6, 1.5, 2.4,
                1.7, 1.9, 2.7, 2.5, 3.3, 1.3, 1.1, 2.0, 1.1, 0.95,
                2.1, 1.2, 1.5, 1.75, 2.4, 2.9, 4.4, 6.5, 7.2, 6.6,
                7.2, 6.9, 5.0, 3.8, 5.9, 6.3, 5.3, 7.1, 6.9, 5.6,
                7.7, 7.8, 6.3, 8.1, 8.5, 7.9, 8.6, 7.6, 7.3, 8.2,
                7.4, 6.9, 6.7, 6.6, 6.2, 5.7, 6.5, 6.2, 5.2, 4.4,
                3.6, 3.1, 2.9, 1.5, 1.05, 1.25, 0.9, 1.0, 0.8, 1.25,
                1.4, 1.5, 1.05, 1.0, 0.9, 0.9, 0.65, 1.4, 1.1, 1.3,
                1.05, 1.1, 1.5, 1.75, 2.05, 2.3, 1.5, 1.25, 0.8, 1.0,
                1.25, 1.1, 1.3, 1.0, 1.25, 0.9, 1.1, 0.8, 1.1, 1.45,
                1.05]

b_wind_rev_t = [1959.02, 1959.24, 1959.49, 1959.65, 1959.90, 1960.07, 1960.23, 1960.48, 1960.73, 1960.98,
                1961.23, 1961.47, 1961.72, 1961.97, 1962.14, 1962.38, 1962.63, 1962.88, 1963.13, 1963.38,
                1963.63, 1963.87, 1964.04, 1964.29, 1964.54, 1964.70, 1964.95, 1965.20, 1965.45, 1965.70,
                1965.86, 1966.03, 1966.27, 1966.52, 1966.69, 1966.85, 1967.19, 1967.43, 1967.76, 1967.93,
                1968.18, 1968.43, 1968.84, 1969.01, 1969.34, 1969.75, 1969.92, 1970.08, 1970.33, 1970.61,
                1970.83, 1971.32, 1971.82, 1972.24, 1972.73, 1973.15, 1973.68, 1974.06, 1974.55, 1975.05,
                1975.55, 1975.88, 1976.29, 1976.54, 1976.82, 1976.95, 1977.20, 1977.45, 1977.74, 1977.89,
                1978.35, 1978.81, 1979.01, 1979.26, 1979.75, 1980.00, 1980.33, 1980.82, 1981.15, 1981.40,
                1981.73, 1981.98, 1982.39, 1982.55, 1982.72, 1982.97, 1983.29, 1983.62, 1983.95, 1984.12,
                1984.61, 1984.94, 1985.27, 1985.68, 1985.93, 1986.43, 1986.67, 1987.00, 1987.41, 1987.83,
                1988.24, 1988.73, 1989.23, 1989.56, 1989.88, 1990.21, 1990.46, 1990.71, 1990.96, 1991.28,
                1991.61, 1991.86, 1992.03, 1992.36, 1992.69, 1993.34, 1993.76, 1994.58, 1995.49, 1995.82,
                1996.47, 1996.72, 1997.62, 1998.62, 1999.78, 2000.95, 2001.94, 2002.44, 2003.61, 2004.77,
                2006.26, 2007.76, 2008.92, 2009.92, 2010.75, 2011.74, 2012.74, 2013.74, 2014.90, 2016.06,
                2016.73, 2017.89, 2019.00]
b_wind_rev_v = [11.45, 12.25, 12.35, 12.1, 11.85, 11.05, 11.2, 11.3, 11.2, 9.65,
                7.55, 8.2, 8.7, 7.05, 7.7, 9.0, 9.4, 8.45, 7.95, 9.0,
                9.4, 7.7, 6.0, 6.5, 7.55, 7.4, 5.45, 5.6, 6.65, 7.8,
                8.05, 4.95, 2.85, 3.4, 4.55, 2.6, 1.6, 1.5, 3.6, 2.1,
                1.35, 1.5, 2.4, 1.9, 1.85, 4.6, 3.2, 2.0, 1.7, 3.3,
                2.6, 1.5, 2.2, 1.5, 2.5, 1.4, 3.9, 1.4, 2.7, 1.4,
                2.4, 3.0, 2.5, 3.2, 4.7, 2.5, 2.0, 2.2, 4.0, 2.3,
                1.5, 3.2, 1.9, 1.5, 2.0, 2.3, 3.1, 4.7, 6.0, 7.3,
                7.8, 7.4, 8.2, 8.35, 6.5, 3.65, 4.05, 4.3, 2.6, 1.45,
                1.95, 1.8, 2.45, 3.65, 2.45, 3.1, 3.65, 2.1, 2.1, 2.1,
                1.15, 1.3, 2.2, 2.6, 3.4, 4.15, 5.2, 3.9, 1.95, 2.6,
                2.75, 1.45, 1.05, 0.9, 1.4, 0.9, 1.25, 0.8, 0.65, 1.4,
                1.0, 1.4, 1.5, 1.0, 1.1, 0.85, 1.05, 0.65, 1.4, 1.2,
                0.9, 0.55, 1.0, 1.0, 1.25, 1.1, 1.25, 1.1, 1.1, 1.0,
                1.1, 0.8, 0.85]

b_temp_rev_t = [1959.02, 1959.24, 1959.49, 1959.69, 1959.82, 1959.95, 1960.12, 1960.28, 1960.48, 1960.73,
                1960.98, 1961.23, 1961.47, 1961.72, 1961.97, 1962.14]
b_temp_rev_v = [11.3, 12.0, 12.25, 12.1, 11.6, 9.9, 6.75, 4.4, 2.85, 2.6,
                2.1, 1.55, 2.2, 2.5, 1.8, 1.2]

############################## PLOT

plt.rcParams['font.family'] = 'DejaVu Sans'

fig = plt.figure(figsize=(13.22, 5.66), dpi=100)
ax_a = fig.add_axes([0.068, 0.585, 0.928, 0.341])
ax_b = fig.add_axes([0.068, 0.0695, 0.928, 0.3405])

panels = [
    (ax_a, "a)", "Pine Island-Thwaites", 12, [0, 5, 10],
     [(a_prec_rev_t, a_prec_rev_v), (a_temp_rev_t, a_temp_rev_v), (a_wind_rev_t, a_wind_rev_v)],
     [(a_prec_t, a_prec_v), (a_temp_t, a_temp_v), (a_wind_t, a_wind_v)]),
    (ax_b, "b)", "Crosson-Dotson", 15, [0, 5, 10, 15],
     [(b_prec_rev_t, b_prec_rev_v), (b_temp_rev_t, b_temp_rev_v), (b_wind_rev_t, b_wind_rev_v)],
     [(b_prec_t, b_prec_v), (b_temp_t, b_temp_v), (b_wind_t, b_wind_v)]),
]
colors = [BLUE, GREEN, VIOLET]
rev_labels = ["PREC x0.48 REV", "TEMP -10°C REV", "WIND +4.7°N REV"]
sol_labels = ["PREC x0.48", "TEMP -10°C", "WIND +4.7°N"]

for ax, letter, name, ymax, yticks, rev, sol in panels:
    # dotted "REV" runs underneath
    for (t, v), c, lab in zip(rev, colors, rev_labels):
        ax.plot(t, v, ":", color=c, lw=1.7, label=lab, zorder=3)
    # solid runs with a light spread band
    for (t, v), c, lab in zip(sol, colors, sol_labels):
        t = np.array(t)
        v = np.array(v)
        ax.fill_between(t, v * 0.95, v * 1.05, color=c, alpha=0.28, lw=0, zorder=3)
        ax.plot(t, v, "-", color=c, lw=1.8, label=lab, zorder=4)

    ax.set_xlim(sol[0][0][0], sol[0][0][-1])
    ax.set_ylim(0, ymax)
    ax.set_yticks(yticks)
    ax.set_xticks([1960, 1970, 1980, 1990, 2000, 2010])
    ax.grid(True, color="#b0b0b0", lw=1.8, zorder=0)
    ax.set_axisbelow(True)
    for s in ax.spines.values():
        s.set_linewidth(2.5)
    ax.tick_params(axis="both", which="major", length=8, width=2.2, labelsize=11.5, pad=5)
    ax.set_ylabel("Melt rate (m.w.e.yr$^{-1}$)", fontsize=14.5, labelpad=10)
    ax.set_title(name, fontsize=14, pad=9)
    ax.set_title(letter, loc="left", fontsize=14, pad=9)

leg = ax_b.legend(loc="upper right", fontsize=10.5, framealpha=0.55, edgecolor="#cccccc",
                  handlelength=2.0, labelspacing=0.35, borderaxespad=0.5)
leg.set_zorder(2)

fig.savefig("out.png", dpi=100)
